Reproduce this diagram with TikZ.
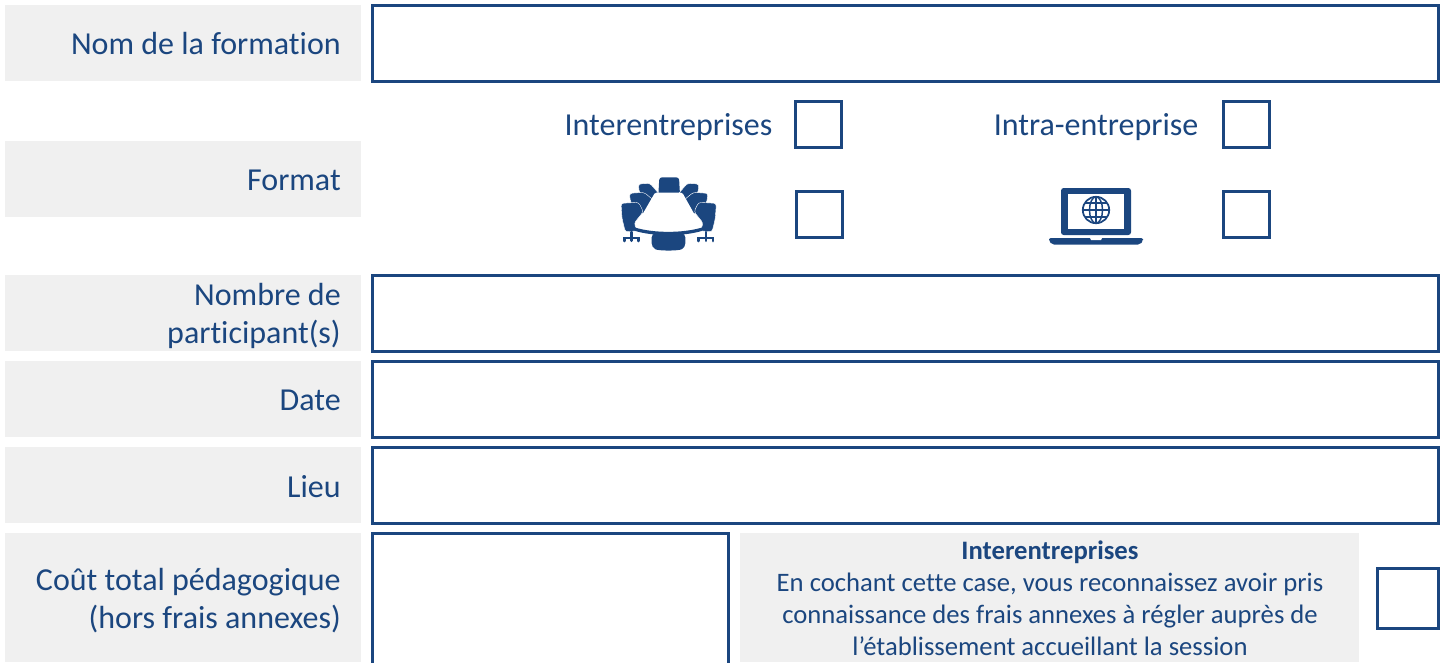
\documentclass[tikz,border=0pt]{standalone}
\usepackage{fontspec}
\setmainfont{Carlito}[Ligatures=CommonOff]
\definecolor{navy}{HTML}{1B467F}
\definecolor{pale}{HTML}{F0F0F0}
\tikzset{
  labelbg/.style={fill=pale,draw=none},
  fieldbox/.style={fill=navy,draw=none},
  inner/.style={fill=white,draw=none},
  px/.style={x=0.75pt,y=-0.75pt},
  lbl/.style={text=navy,font=\fontsize{24}{28.8}\selectfont,anchor=east,align=right,inner sep=0pt},
  opt/.style={text=navy,font=\fontsize{24}{28.6}\selectfont,anchor=center,inner sep=0pt},
  note/.style={text=navy,font=\fontsize{20}{24.1}\selectfont,anchor=center,align=center,inner sep=0pt},
  chair/.style={fill=navy,draw=white,line width=0.3pt,rounded corners=2pt}
}
\newcommand{\framedbox}[4]{%
  \fill[fieldbox] (#1-1.5,#2-1.5) rectangle (#3+1.5,#4+1.5);
  \fill[inner] (#1+1.5,#2+1.5) rectangle (#3-1.5,#4-1.5);
}
\begin{document}
\begin{tikzpicture}[px]
\useasboundingbox (0,0) rectangle (1442,662);
% left label backgrounds
\fill[labelbg] (5,5) rectangle (361,81);
\fill[labelbg] (5,141) rectangle (361,217);
\fill[labelbg] (5,275) rectangle (361,351);
\fill[labelbg] (5,361) rectangle (361,437);
\fill[labelbg] (5,447) rectangle (361,523);
\fill[labelbg] (5,533) rectangle (361,662);
\fill[labelbg] (740,533) rectangle (1359,662);
% fields
\framedbox{372.5}{5}{1438}{81}
\framedbox{372.5}{275}{1438}{351}
\framedbox{372.5}{361}{1438}{437}
\framedbox{372.5}{447}{1438}{523}
\begin{scope}
\clip (360,525) rectangle (740,662);
\framedbox{372.5}{533.5}{728}{668}
\end{scope}
% checkboxes
\framedbox{795}{101}{841}{147}
\framedbox{1223}{101}{1269}{147}
\framedbox{796}{191}{842}{237}
\framedbox{1223}{191}{1269}{237}
\framedbox{1377}{568}{1438}{628}
% labels
\node[lbl] (nom) at (341,43.5) {Nom de la formation};
\node[lbl] (format) at (341,180) {Format};
\node[lbl] (nombre) at (341,316) {Nombre de\\participant(s)};
\node[lbl] (date) at (341,400) {Date};
\node[lbl] (lieu) at (341,486.5) {Lieu};
\node[lbl] (cout) at (341,600.5) {Coût total pédagogique\\(hors frais annexes)};
\node[opt] (inter) at (668.5,127) {Interentreprises};
\node[opt] (intra) at (1096,127) {Intra-entreprise};
\node[note] (notetxt) at (1050,598.5) {\textbf{Interentreprises}\\En cochant cette case, vous reconnaissez avoir pris\\connaissance des frais annexes à régler auprès de\\l’établissement accueillant la session};
% meeting table icon (traced in a 3x grid from the icon's corner)
\begin{scope}[shift={(600,170)},x=0.25pt,y=-0.25pt]
  \fill[navy,rounded corners=2pt] (178,22) -- (237,22) -- (240,75) -- (175,75) -- cycle;
  \foreach \s/\o in {1/0,-1/412}{
    \begin{scope}[xshift=\o*0.25pt,xscale=\s]
      \path[chair] (115,42) -- (150,40) -- (180,75) -- (150,100) -- (118,68) -- cycle;
      \path[chair] (88,70) -- (132,67) -- (160,90) -- (130,135) -- (92,98) -- cycle;
      \path[chair] (63,100) -- (116,97) -- (130,125) -- (102,160) -- (112,182) -- (76,186) -- (66,145) -- cycle;
      \draw[navy,line width=2.2pt,line cap=round] (94,186) -- (94,212);
      \draw[navy,line width=2.2pt,line cap=round] (73,213) -- (73,204) -- (116,204) -- (116,213);
    \end{scope}
  }
  \fill[navy,rounded corners=3pt] (155,190) -- (256,190) -- (256,232) .. controls (235,243) and (176,243) .. (155,232) -- cycle;
  \fill[navy] (103,172) .. controls (160,190) and (250,190) .. (308,172) -- (308,182) .. controls (250,200) and (160,200) .. (103,182) -- cycle;
  \fill[white,rounded corners=1pt] (165,68) -- (247,68) -- (303,168) .. controls (250,186) and (160,186) .. (107,168) -- cycle;
\end{scope}
% laptop icon
\fill[navy,rounded corners=2pt] (1061,188) rectangle (1131,235);
\fill[white] (1068,193.5) rectangle (1124,229);
\fill[navy,rounded corners=1.5pt] (1049,238) -- (1143,238) -- (1143,241) -- (1140,244.5) -- (1052,244.5) -- (1049,241) -- cycle;
\fill[white] (1090,238) -- (1102,238) -- (1101,240) -- (1091,240) -- cycle;
\begin{scope}[navy,line width=1.3pt]
  \draw (1096,210) circle[radius=13.2];
  \draw[line width=1.1pt] (1096,210) ellipse[x radius=6.5,y radius=13.2];
  \draw[line width=1.1pt] (1096,197) -- (1096,223);
  \draw[line width=1.1pt] (1083,210) -- (1109,210);
  \draw[line width=1.1pt] (1085,203) -- (1107,203);
  \draw[line width=1.1pt] (1085,217) -- (1107,217);
\end{scope}
\end{tikzpicture}
\end{document}
